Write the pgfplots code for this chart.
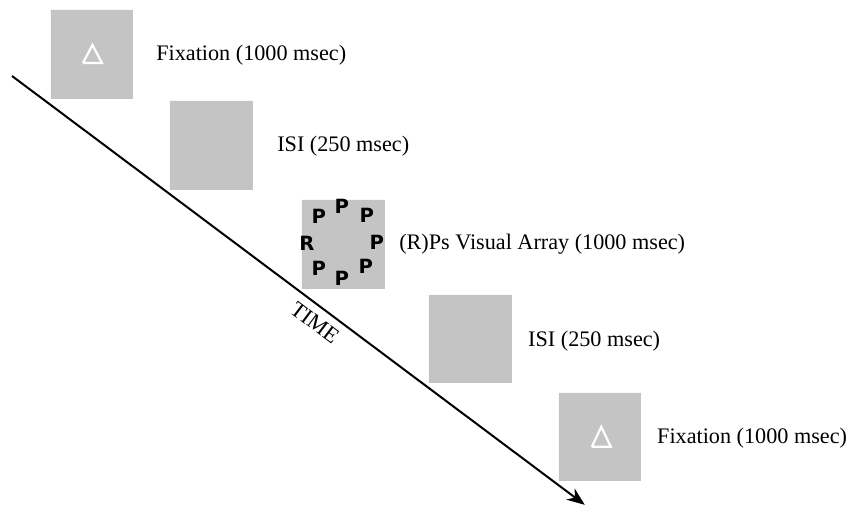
\documentclass[border=0pt]{standalone}
\usepackage{pgfplots}
\pgfplotsset{compat=1.18}
\usepackage{fontspec}
\setmainfont{Liberation Serif}
\newfontfamily\pfont{DejaVu Sans}
\usetikzlibrary{arrows.meta}
\definecolor{boxgray}{RGB}{196,196,196}
\begin{document}
\begin{tikzpicture}[lab/.style={inner sep=0pt, font=\fontsize{11.1}{13}\selectfont}]
\begin{axis}[
  scale only axis, width=423.5pt, height=253.5pt,
  xmin=0, xmax=847, ymin=0, ymax=507, y dir=reverse,
  hide axis, clip=false
]
% invisible frame so the picture spans the whole area
\addplot[draw=none, mark=none] coordinates {(0,0)(847,507)};
% frames
\addplot[fill=boxgray, draw=none] coordinates {(51,10)(133,10)(133,99)(51,99)(51,10)};
\addplot[fill=boxgray, draw=none] coordinates {(170,101)(253,101)(253,190)(170,190)(170,101)};
\addplot[fill=boxgray, draw=none] coordinates {(302,200)(385,200)(385,289)(302,289)(302,200)};
\addplot[fill=boxgray, draw=none] coordinates {(429,295)(512,295)(512,383)(429,383)(429,295)};
\addplot[fill=boxgray, draw=none] coordinates {(559,393)(641,393)(641,481)(559,481)(559,393)};
% fixation triangles
\addplot[white, line width=1.1pt, line join=miter] coordinates {(83,63)(102,63)(92.5,45)(83,63)};
\addplot[white, line width=1.1pt, line join=miter] coordinates {(592,447)(611,447)(601.5,427)(592,447)};
% visual array letters
\addplot[only marks, mark=none, point meta=explicit symbolic, nodes near coords,
  nodes near coords style={anchor=center, inner sep=0pt, font=\pfont\bfseries\fontsize{9.8}{10}\selectfont}]
  table[meta=label] {
x y label
342 206 P
319 216 P
367 215 P
307 243 R
377 242 P
319 268 P
366 266 P
342 278 P
};
% time arrow
\addplot[black, line width=1pt, -{Stealth[length=9pt,width=7pt]}] coordinates {(12,76)(585,505)};
\node[lab, rotate=-37, anchor=center] at (axis cs:315,323) {TIME};
% labels
\node[lab, anchor=base west] at (axis cs:156,61) {Fixation (1000 msec)};
\node[lab, anchor=base west] at (axis cs:277,152) {ISI (250 msec)};
\node[lab, anchor=base west] at (axis cs:399,250) {(R)Ps Visual Array (1000 msec)};
\node[lab, anchor=base west] at (axis cs:528,347) {ISI (250 msec)};
\node[lab, anchor=base west] at (axis cs:657,444) {Fixation (1000 msec)};
\end{axis}
\end{tikzpicture}
\end{document}
